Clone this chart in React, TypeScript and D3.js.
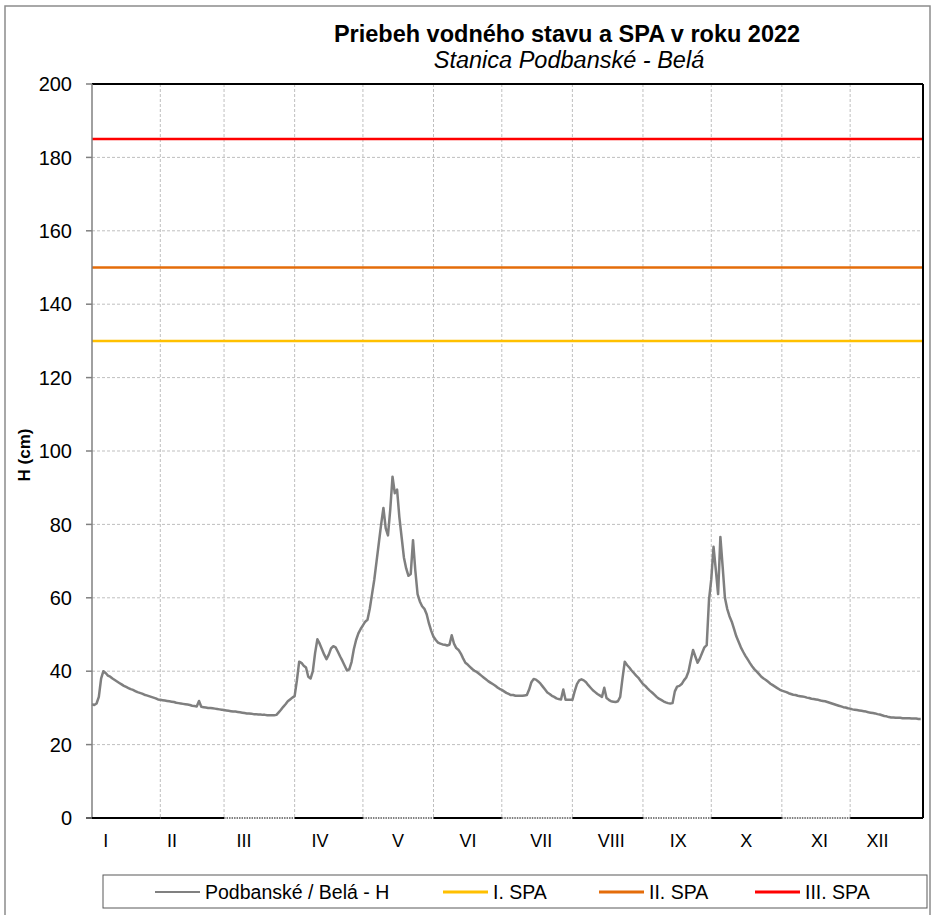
import React from "react";
import * as d3 from "d3";

const TITLE = "Priebeh vodného stavu a SPA v roku 2022";
const SUBTITLE = "Stanica Podbanské - Belá";
const Y_LABEL = "H (cm)";
const MONTH_LABELS = ["I", "II", "III", "IV", "V", "VI", "VII", "VIII", "IX", "X", "XI", "XII"];
const MONTH_LABEL_DAY = [7.0, 36.1, 67.8, 101.2, 135.4, 166.2, 198.3, 229.1, 258.5, 288.4, 320.5, 346];
const MONTH_BOUNDARIES = [1, 31, 59, 90, 120, 151, 181, 212, 243, 273, 304, 334, 366];
const AXIS_SOLID = [true, true, false, true, false, true, false, true, false, true, false, true];
const Y_TICKS = [0, 20, 40, 60, 80, 100, 120, 140, 160, 180, 200];

const SPA_LEVELS = [130, 150, 185];
const SPA_NAMES = ["I. SPA", "II. SPA", "III. SPA"];
const SPA_COLORS = ["#FFC000", "#E46C0A", "#FF0000"];
const SERIES_NAME = "Podbanské / Belá - H";

const H_JAN = [31, 30.8, 31.2, 33, 38, 40, 39.5, 38.8, 38.5, 38, 37.6, 37.2, 36.8, 36.4, 36, 35.7, 35.4, 35.1, 34.9, 34.6, 34.3, 34.1, 33.9, 33.6, 33.4, 33.2, 33, 32.8, 32.6, 32.3, 32.2];
const H_FEB = [32.1, 32, 31.9, 31.8, 31.7, 31.6, 31.4, 31.3, 31.2, 31.1, 31, 30.9, 30.8, 30.6, 30.5, 30.4, 31.9, 30.3, 30.2, 30.1, 30, 30, 29.9, 29.8, 29.7, 29.6, 29.5, 29.4];
const H_MAR = [29.3, 29.2, 29.1, 29, 29, 28.9, 28.8, 28.7, 28.6, 28.5, 28.5, 28.4, 28.3, 28.3, 28.2, 28.2, 28.1, 28.1, 28, 28, 28, 28, 28.1, 28.8, 29.5, 30.3, 31, 31.8, 32.3, 32.8, 33.2];
const H_APR = [37.5, 42.6, 42.3, 41.5, 41, 38.5, 38, 40, 45, 48.7, 47.5, 46, 44.5, 43.3, 44.5, 46.2, 46.8, 46.5, 45.3, 44, 42.8, 41.5, 40.2, 40.5, 42.5, 46, 48.5, 50.3, 51.5, 52.5];
const H_MAY = [53.5, 54, 57, 61, 65, 70, 75, 80, 84.5, 79, 77, 84, 93, 88.5, 89.5, 82, 76.5, 71, 68, 66, 66.5, 75.7, 67.5, 61, 59, 57.7, 57, 55.5, 53, 51, 49.4];
const H_JUN = [48.5, 47.8, 47.5, 47.3, 47.2, 47, 47.2, 49.8, 47.5, 46.3, 45.8, 44.8, 43.5, 42.3, 41.8, 41.2, 40.6, 40.1, 39.8, 39.3, 38.8, 38.3, 37.8, 37.3, 36.9, 36.5, 36.1, 35.6, 35.2, 34.9];
const H_JUL = [34.5, 34.1, 33.8, 33.5, 33.5, 33.3, 33.3, 33.3, 33.3, 33.4, 33.5, 35, 37, 37.9, 37.7, 37.2, 36.6, 35.8, 35, 34.2, 33.8, 33.3, 33, 32.6, 32.4, 32.3, 35, 32.2, 32.2, 32.2, 32.2];
const H_AUG = [34.5, 36.5, 37.5, 37.8, 37.5, 37, 36.2, 35.5, 34.8, 34.3, 33.8, 33.4, 33, 35.5, 32.7, 32.2, 31.8, 31.7, 31.6, 31.8, 33, 38, 42.6, 41.7, 41, 40.2, 39.5, 38.8, 38.2, 37.3, 36.5];
const H_SEP = [36, 35.3, 34.7, 34.2, 33.6, 33, 32.5, 32.2, 31.8, 31.5, 31.3, 31.2, 31.3, 34.5, 35.8, 36, 36.5, 37.5, 38.3, 39.9, 43, 45.8, 44, 42.3, 43.5, 45, 46.5, 47.1, 59.4, 65];
const H_OCT = [73.9, 67.6, 61, 76.6, 68.5, 60, 57, 55, 53.5, 51.5, 49.5, 48, 46.5, 45.3, 44.2, 43.2, 42.2, 41.3, 40.5, 39.9, 39.2, 38.5, 38, 37.6, 37.1, 36.6, 36.2, 35.8, 35.4, 35, 34.7];
const H_NOV = [34.5, 34.3, 34, 33.8, 33.6, 33.5, 33.3, 33.2, 33.1, 33, 32.8, 32.7, 32.5, 32.4, 32.3, 32.2, 32, 31.9, 31.8, 31.6, 31.4, 31.2, 31, 30.8, 30.6, 30.4, 30.2, 30.1, 29.9, 29.8];
const H_DEC = [29.6, 29.5, 29.4, 29.3, 29.2, 29.1, 29, 28.8, 28.7, 28.6, 28.5, 28.3, 28.2, 28, 27.8, 27.7, 27.5, 27.4, 27.4, 27.3, 27.3, 27.3, 27.2, 27.2, 27.2, 27.2, 27.1, 27.1, 27.1, 27, 27];

const H_SERIES = [...H_JAN, ...H_FEB, ...H_MAR, ...H_APR, ...H_MAY, ...H_JUN, ...H_JUL, ...H_AUG, ...H_SEP, ...H_OCT, ...H_NOV, ...H_DEC];

const FONT = "Arial, 'Liberation Sans', sans-serif";

export default function App() {
  const W = 935, H = 915;
  const left = 92, right = 923, top = 84, bottom = 818;
  const x = d3.scaleLinear().domain([1, 366]).range([left, right]);
  const y = d3.scaleLinear().domain([0, 200]).range([bottom, top]);
  const line = d3.line<number>().x((_, i) => x(i + 1)).y((v) => y(v));

  const gridColor = "#BFBFBF";
  const legendY = 892;
  const legendItems = [
    { name: SERIES_NAME, color: "#808080", x0: 155, w: 2 },
    ...SPA_NAMES.map((n, i) => ({ name: n, color: SPA_COLORS[i], x0: [443, 599, 755][i], w: 3 })),
  ];

  return (
    <svg width={W} height={H} style={{ position: "absolute", left: 0, top: 0, display: "block" }} fontFamily={FONT}>
      <rect x={0} y={0} width={W} height={H} fill="#fff" />
      <rect x={5} y={6} width={925} height={930} fill="none" stroke="#8C8C8C" strokeWidth={1.5} />
      <text x={567} y={42} textAnchor="middle" fontWeight="bold" fontSize={23.5}>{TITLE}</text>
      <text x={569} y={68} textAnchor="middle" fontStyle="italic" fontSize={23.5}>{SUBTITLE}</text>

      {Y_TICKS.filter((t) => t > 0 && t < 200).map((t) => (
        <line key={"hg" + t} x1={left} x2={right} y1={y(t)} y2={y(t)} stroke={gridColor} strokeWidth={1} strokeDasharray="3,2" />
      ))}
      {MONTH_BOUNDARIES.slice(1, -1).map((d) => (
        <line key={"vg" + d} x1={x(d)} x2={x(d)} y1={top} y2={bottom} stroke={gridColor} strokeWidth={1} strokeDasharray="3,2" />
      ))}

      {SPA_LEVELS.map((lv, i) => (
        <line key={"spa" + i} x1={left} x2={right} y1={y(lv)} y2={y(lv)} stroke={SPA_COLORS[i]} strokeWidth={2.5} />
      ))}

      <path d={line(H_SERIES) || ""} fill="none" stroke="#7F7F7F" strokeWidth={2.5} strokeLinejoin="round" />

      <line x1={left} x2={right} y1={top} y2={top} stroke="#000" strokeWidth={2} />
      <line x1={right} x2={right} y1={top} y2={bottom} stroke="#000" strokeWidth={2} />
      <line x1={left} x2={left} y1={top} y2={bottom} stroke="#808080" strokeWidth={1.5} />
      {AXIS_SOLID.map((s, i) => (
        <line key={"ax" + i} x1={x(MONTH_BOUNDARIES[i]) - (i === 0 ? 6 : 0)} x2={x(MONTH_BOUNDARIES[i + 1])} y1={bottom} y2={bottom}
          stroke={s ? "#000" : "#555"} strokeWidth={s ? 2 : 1.5} strokeDasharray={s ? undefined : "1.5,1"} />
      ))}

      {Y_TICKS.map((t) => (
        <g key={"yt" + t}>
          <line x1={left - 6} x2={left} y1={y(t)} y2={y(t)} stroke="#808080" strokeWidth={1.5} />
          <text x={left - 20} y={y(t)} dy="0.36em" textAnchor="end" fontSize={20}>{t}</text>
        </g>
      ))}
      <text transform={`translate(30,${y(100) + 4}) rotate(-90)`} textAnchor="middle" fontWeight="bold" fontSize={17}>{Y_LABEL}</text>

      {MONTH_LABELS.map((m, i) => (
        <text key={m} x={x(MONTH_LABEL_DAY[i])} y={847} textAnchor="middle" fontSize={18}>{m}</text>
      ))}

      <rect x={103} y={875} width={824} height={33} fill="#fff" stroke="#595959" strokeWidth={1} />
      {legendItems.map((it) => (
        <g key={it.name}>
          <line x1={it.x0} x2={it.x0 + 45} y1={legendY} y2={legendY} stroke={it.color} strokeWidth={it.w} />
          <text x={it.x0 + 50} y={legendY} dy="0.36em" fontSize={19.5}>{it.name}</text>
        </g>
      ))}
    </svg>
  );
}
